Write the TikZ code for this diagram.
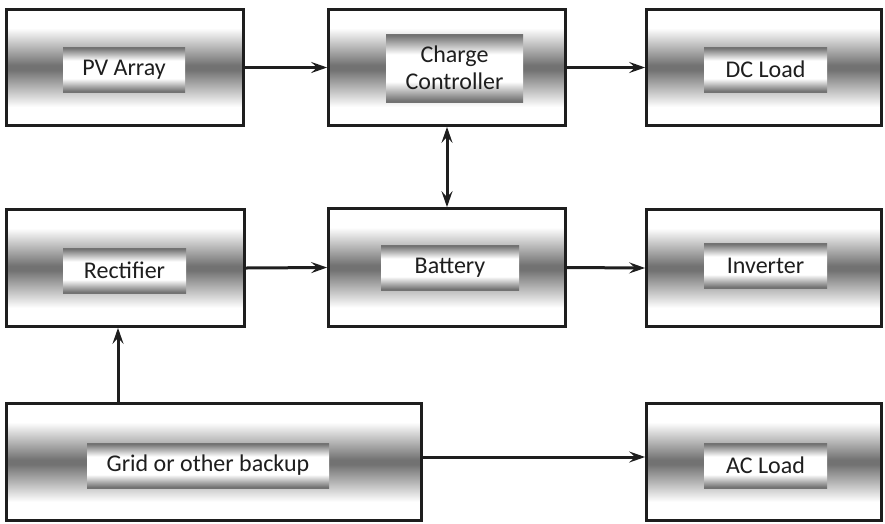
\documentclass[tikz,border=0pt]{standalone}
\usepackage{fontspec}
\setmainfont{Carlito}
\usetikzlibrary{arrows.meta,calc}
\definecolor{txt}{HTML}{1E1E1E}
\definecolor{mid}{HTML}{727272}
\pgfdeclareverticalshading{outersh}{100bp}{color(0bp)=(white); color(33bp)=(white); color(49bp)=(mid); color(51bp)=(mid); color(67bp)=(white); color(100bp)=(white)}
\pgfdeclareverticalshading{innersh}{100bp}{color(0bp)=(mid); color(26bp)=(mid); color(40bp)=(white); color(60bp)=(white); color(74bp)=(mid); color(100bp)=(mid)}
\tikzset{
  outerbox/.style={draw=txt, line width=2.7pt, rectangle, shading=outersh, inner sep=0pt},
  innerbox/.style={rectangle, shading=innersh, inner sep=0pt, align=center, text=txt, font=\fontsize{24}{27}\selectfont},
  arr/.style={-{Stealth[length=16pt,width=11pt,inset=6pt]}, line width=3pt, draw=txt},
  biarr/.style={{Stealth[length=16pt,width=11pt,inset=6pt]}-{Stealth[length=16pt,width=11pt,inset=6pt]}, line width=3pt, draw=txt}
}
\begin{document}
\begin{tikzpicture}[x=1pt,y=-1pt]
\useasboundingbox (0,0) rectangle (885,523);
% outer boxes
\node[outerbox, minimum width=237pt, minimum height=116pt] (pv) at (125,67.5) {};
\node[outerbox, minimum width=237pt, minimum height=116pt] (cc) at (447,67.5) {};
\node[outerbox, minimum width=235pt, minimum height=116pt] (dc) at (764,67.5) {};
\node[outerbox, minimum width=238pt, minimum height=117pt] (rect) at (125.5,268) {};
\node[outerbox, minimum width=237pt, minimum height=118pt] (batt) at (447,267.5) {};
\node[outerbox, minimum width=235pt, minimum height=117pt] (inv) at (764,268) {};
\node[outerbox, minimum width=415pt, minimum height=117pt] (grid) at (214,462) {};
\node[outerbox, minimum width=235pt, minimum height=117pt] (ac) at (764,462) {};
% inner boxes
\node[innerbox, minimum width=122pt, minimum height=45pt] (pvi) at (124,69.5) {PV Array};
\node[innerbox, minimum width=137pt, minimum height=68pt] (cci) at (454.5,68) {Charge\\Controller};
\node[innerbox, minimum width=123pt, minimum height=45pt] (dci) at (765.5,69.5) {DC Load};
\node[innerbox, minimum width=123pt, minimum height=45pt] (recti) at (124.5,270.5) {Rectifier};
\node[innerbox, minimum width=138pt, minimum height=45pt] (batti) at (450,267.5) {Battery};
\node[innerbox, minimum width=123pt, minimum height=45pt] (invi) at (765.5,265.5) {Inverter};
\node[innerbox, minimum width=242pt, minimum height=45pt] (gridi) at (208,465.5) {Grid or other backup};
\node[innerbox, minimum width=123pt, minimum height=45pt] (aci) at (765.5,465.5) {AC Load};
% helper coordinates
\coordinate (gx) at (118,0);
\coordinate (gy) at (0,457);
% connectors
\draw[arr] (pv.east) -- (cc.west);
\draw[arr] (cc.east) -- (dc.west);
\draw[biarr] (cc.south) -- (batt.north);
\draw[arr] (rect.east) -- (batt.west);
\draw[arr] (batt.east) -- (inv.west);
\draw[arr] (grid.north -| gx) -- (rect.south -| gx);
\draw[arr] (grid.east |- gy) -- (ac.west |- gy);
\end{tikzpicture}
\end{document}
